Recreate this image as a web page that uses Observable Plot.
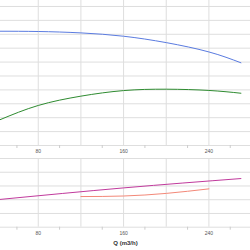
<!DOCTYPE html>
<html><head><meta charset="utf-8">
<script src="https://cdn.jsdelivr.net/npm/d3@7"></script>
<script src="https://cdn.jsdelivr.net/npm/@observablehq/plot@0.6"></script>
<style>body{margin:0;background:#fff;font-family:"Liberation Sans",Arial,sans-serif}svg{display:block}</style>
</head><body><div id="c"></div>
<script>
// Flow Q (m3/h)
const headQ = [44, 80, 120, 160, 200, 240, 270];
const headV = [8.22, 8.2, 8.1, 7.86, 7.4, 6.73, 5.95];
const effQ = [44, 80, 120, 160, 200, 240, 270];
const effV = [1.85, 2.88, 3.55, 3.95, 4.05, 3.96, 3.76];
const powQ = [44, 160, 270];
const powV = [2.02, 2.86, 3.54];
const npshQ = [120, 160, 200, 240];
const npshV = [2.23, 2.27, 2.46, 2.79];
const xGrid = [80, 120, 160, 200, 240];
const xLabels = [80, 160, 240];
const xMinor = [60, 100, 140, 180, 220, 260];
const topTicks = d3.range(0, 11);
const botTicks = d3.range(0, 6);

const xDomain = [44.6, 279];
const gridColor = "#dedede";
const mk = (qs, vs) => qs.map((q, i) => ({q, v: vs[i]}));

const upperChart = Plot.plot({
  width: 250, height: 158,
  marginLeft: 0, marginRight: 0, marginTop: 0, marginBottom: 13,
  x: {domain: xDomain},
  y: {domain: [0, 10.43], axis: null},
  style: {fontFamily: "Liberation Sans, Arial, sans-serif"},
  marks: [
    Plot.gridY(topTicks, {stroke: gridColor, strokeOpacity: 1}),
    Plot.gridX(xGrid, {stroke: gridColor, strokeOpacity: 1}),
    Plot.axisX(xMinor, {tickSize: 3, stroke: "#ccc", text: null, label: null}),
    Plot.axisX(xLabels, {tickSize: 0, tickPadding: 3.5, fontSize: 5, fill: "#555", label: null}),
    Plot.line(mk(headQ, headV), {x: "q", y: "v", stroke: "#5a7be0", strokeWidth: 1, curve: "natural", clip: true}),
    Plot.line(mk(effQ, effV), {x: "q", y: "v", stroke: "#2e8b30", strokeWidth: 1, curve: "natural", clip: true})
  ]
});

const lowerChart = Plot.plot({
  width: 250, height: 92,
  marginLeft: 0, marginRight: 0, marginTop: 0, marginBottom: 23.3,
  x: {domain: xDomain},
  y: {domain: [0, 5], axis: null},
  style: {fontFamily: "Liberation Sans, Arial, sans-serif"},
  marks: [
    Plot.gridY(botTicks, {stroke: gridColor, strokeOpacity: 1}),
    Plot.gridX(xGrid, {stroke: gridColor, strokeOpacity: 1}),
    Plot.axisX(xMinor, {tickSize: 3, stroke: "#ccc", text: null, label: null}),
    Plot.axisX(xLabels, {tickSize: 0, tickPadding: 4, fontSize: 5, fill: "#555", label: null}),
    Plot.text(["Q (m3/h)"], {frameAnchor: "bottom", dy: 18, fontSize: 6, fontWeight: "bold", fill: "#333"}),
    Plot.line(mk(powQ, powV), {x: "q", y: "v", stroke: "#c03a9c", strokeWidth: 1, curve: "natural", clip: true}),
    Plot.line(mk(npshQ, npshV), {x: "q", y: "v", stroke: "#f38878", strokeWidth: 1, curve: "natural", clip: true})
  ]
});

document.getElementById("c").append(upperChart, lowerChart);
</script></body></html>
